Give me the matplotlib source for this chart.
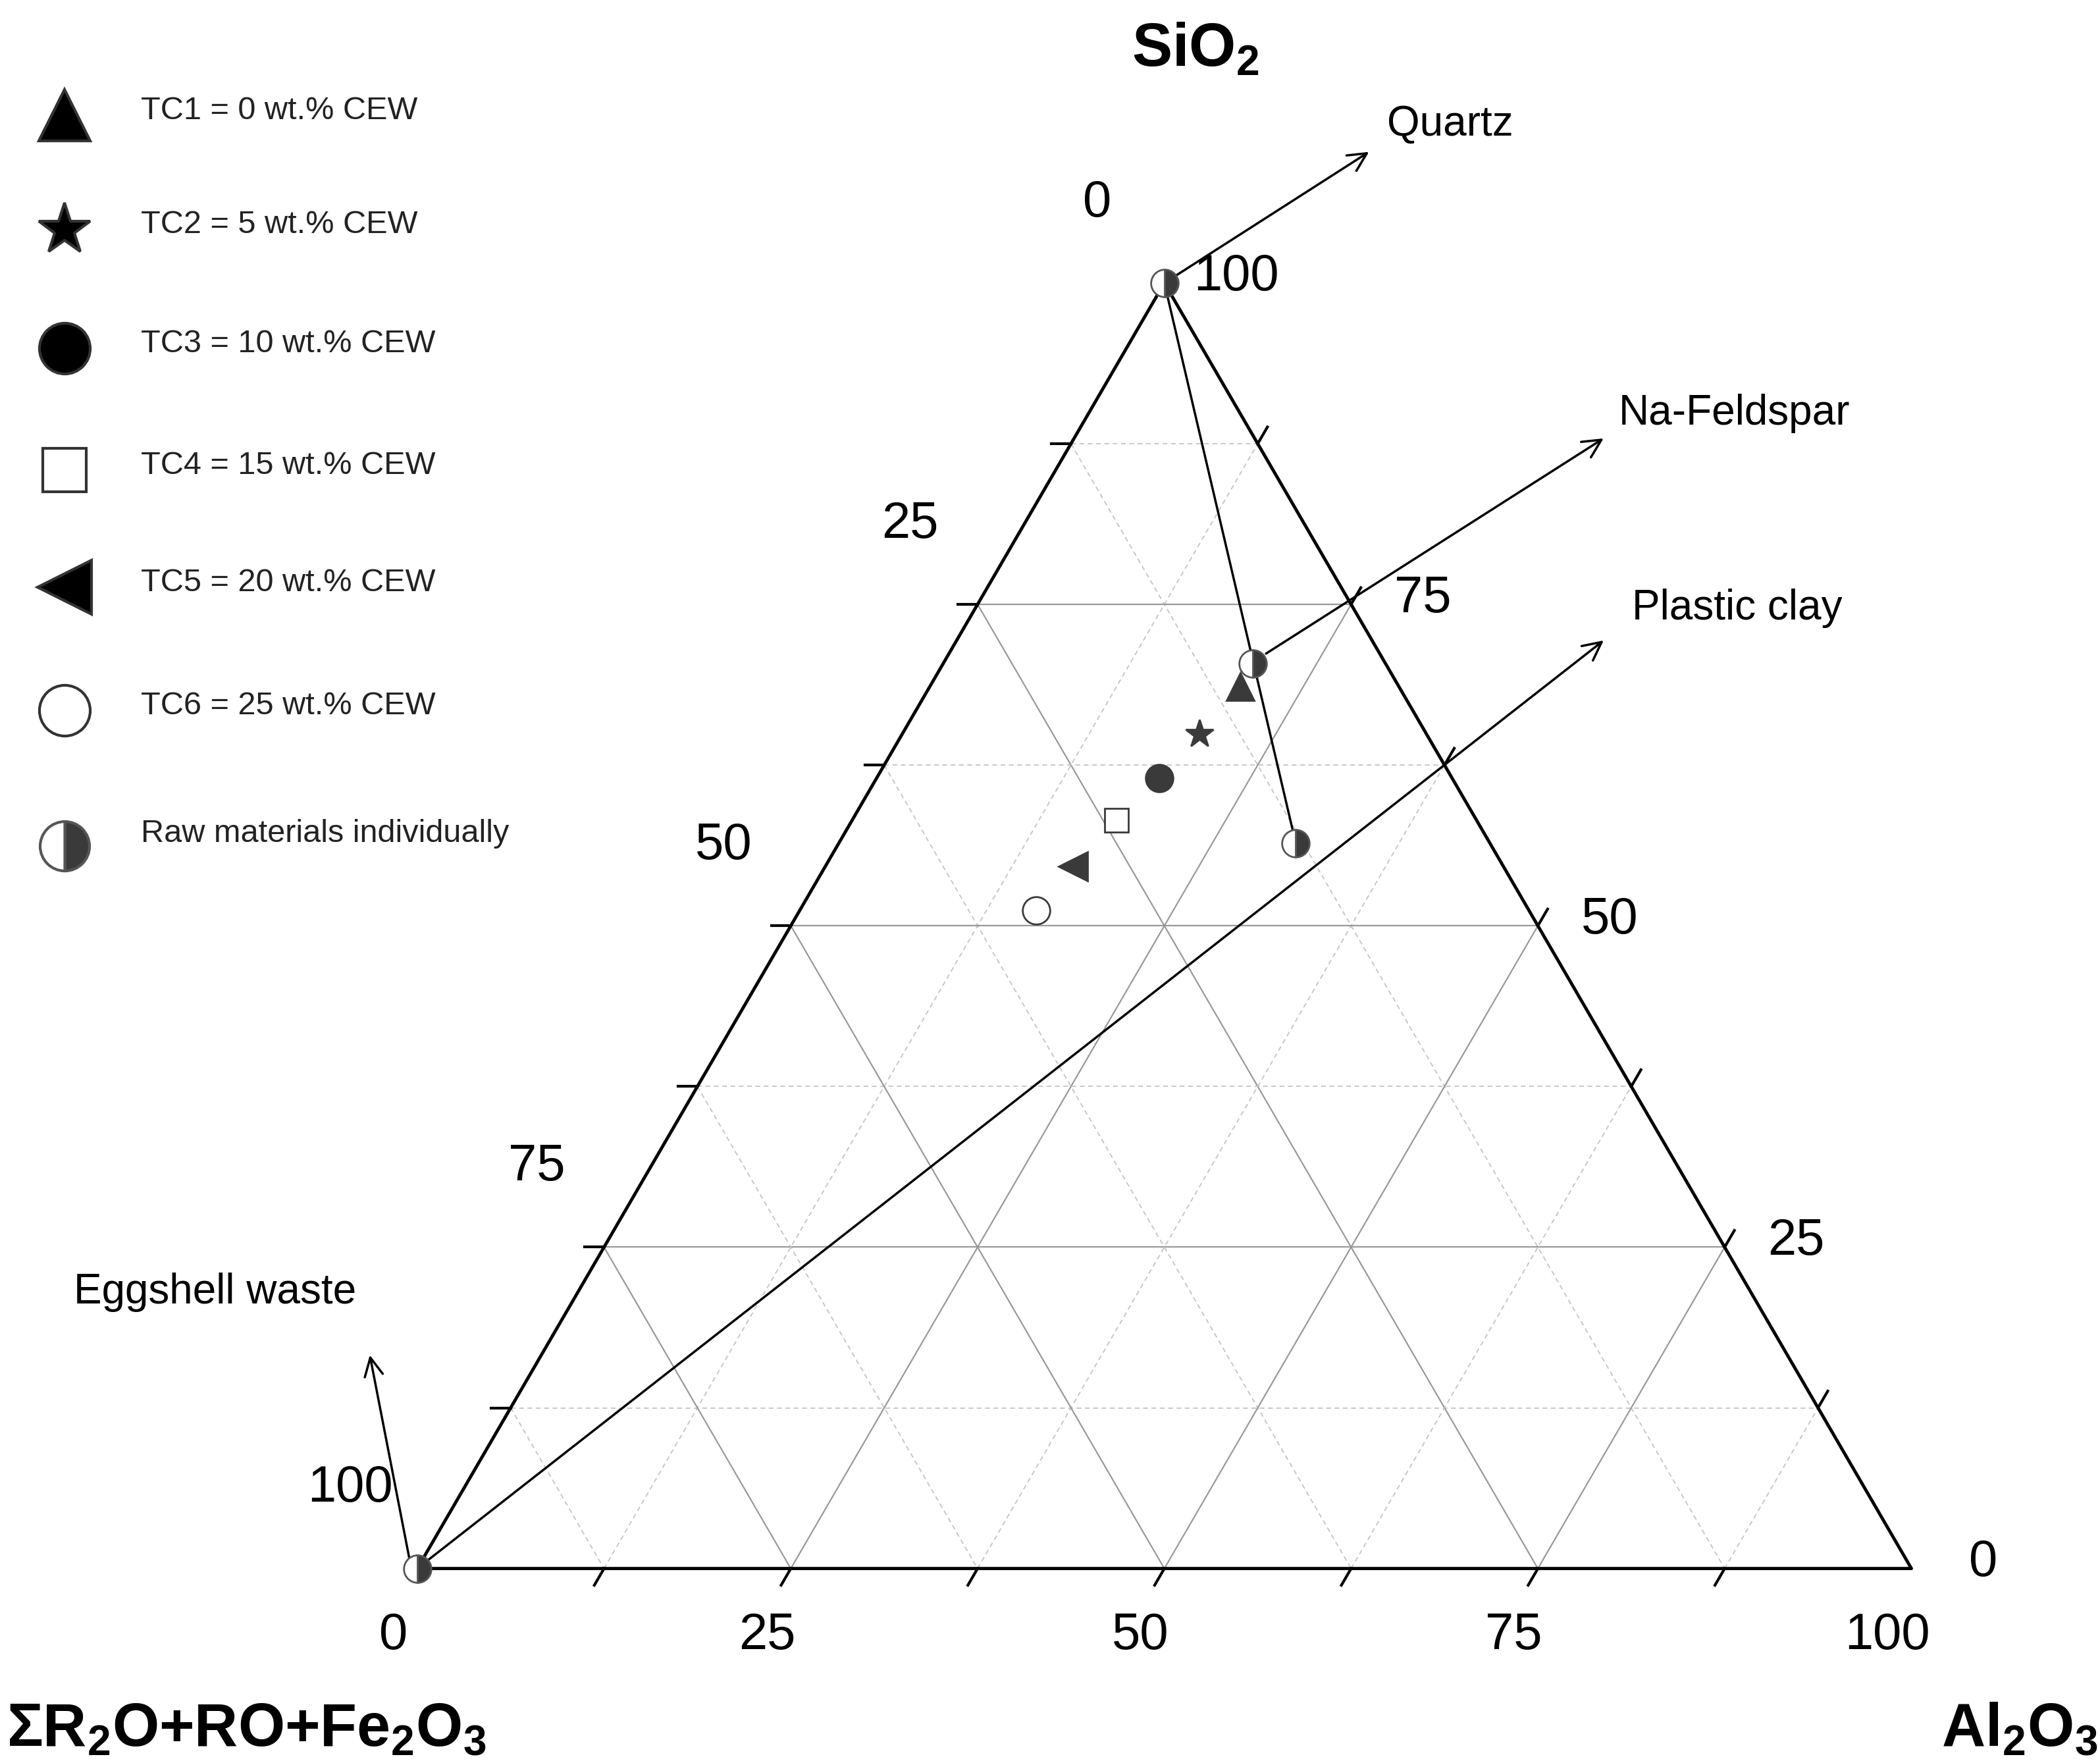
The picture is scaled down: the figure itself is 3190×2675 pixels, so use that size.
import numpy as np
import matplotlib.pyplot as plt

plt.rcParams['font.family'] = ['Liberation Sans', 'DejaVu Sans']
plt.rcParams['mathtext.fontset'] = 'custom'
plt.rcParams['mathtext.bf'] = 'Liberation Sans:bold'
plt.rcParams['mathtext.rm'] = 'Liberation Sans'

H = np.sqrt(3) / 2 * 100

# ternary data (SiO2, Al2O3), remainder = R2O+RO+Fe2O3
raw_names = ["Quartz", "Na-Feldspar", "Plastic clay", "Eggshell waste"]
raw_si = [100, 70.4, 56.4, 0]
raw_al = [0, 20.7, 30.6, 0]

tc_labels = ["TC1 = 0 wt.% CEW", "TC2 = 5 wt.% CEW", "TC3 = 10 wt.% CEW",
             "TC4 = 15 wt.% CEW", "TC5 = 20 wt.% CEW", "TC6 = 25 wt.% CEW"]
tc_si = [68.6, 64.9, 61.5, 58.2, 54.6, 51.2]
tc_al = [20.8, 19.9, 18.9, 17.7, 16.6, 15.8]
tc_markers = ["^", "*", "o", "s", "<", "o"]
tc_fill = ["#3a3a3a", "#3a3a3a", "#3a3a3a", "white", "#3a3a3a", "white"]
tc_size = [30, 32, 30, 26, 32, 30]

ticks = [0, 25, 50, 75, 100]


def xy(si, al):
    si = np.asarray(si, float)
    al = np.asarray(al, float)
    return al + si / 2, si * H / 100


fig = plt.figure(figsize=(31.9, 26.75), dpi=100)
ax = fig.add_axes([0.1987, 0.1093, 0.7115, 0.730])
ax.set_xlim(0, 100)
ax.set_ylim(0, H)
ax.axis("off")

# grid
for v in np.arange(12.5, 100, 12.5):
    style = dict(color="#999999", lw=1.6, ls="-") if v % 25 == 0 else dict(color="#c4c4c4", lw=1.3, ls=(0, (4, 3)))
    x, y = xy([v, v], [0, 100 - v]); ax.plot(x, y, **style, zorder=1)
    x, y = xy([0, 100 - v], [v, v]); ax.plot(x, y, **style, zorder=1)
    x, y = xy([100 - v, 0], [0, 100 - v]); ax.plot(x, y, **style, zorder=1)

# triangle frame
x, y = xy([0, 0, 100, 0], [0, 100, 0, 0])
ax.plot(x, y, color="black", lw=3.5, zorder=2, clip_on=False)

# edge ticks (short, outward)
L = 1.3
for v in np.arange(12.5, 100, 12.5):
    x, y = xy([0, 0], [v, v]); ax.plot([x[0], x[0] - L * 0.5], [0, -L * 0.866], color="black", lw=3, clip_on=False)
    x, y = xy([100 - v, 100 - v], [0, 0]); ax.plot([x[0], x[0] - L], [y[0], y[0]], color="black", lw=3, clip_on=False)
    x, y = xy([v, v], [100 - v, 100 - v]); ax.plot([x[0], x[0] + L * 0.5], [y[0], y[0] + L * 0.866], color="black", lw=3, clip_on=False)

fs = 56
for v in ticks:
    x, y = xy(0, v)
    ax.text(x - 1.6, -4.5, str(v), fontsize=fs, ha="center", va="center")
    x, y = xy(100 - v, 0)
    ax.text(x - 4.5, y + 5.4, str(v), fontsize=fs, ha="center", va="center")
    x, y = xy(v, 100 - v)
    ax.text(x + 4.8, y + 0.4, str(v), fontsize=fs, ha="center", va="center")

# tie line
px, py = xy(raw_si, raw_al)
ax.plot([px[0], px[2]], [py[0], py[2]], color="black", lw=2.5, zorder=3)

# arrows to labels
arrow_end = [(63.8, 95.5), (79.5, 76.2), (79.5, 62.6), (-3.2, 14.5)]
arrow_start = [(px[0], py[0]), (px[1] + 0.8, py[1] + 0.6), (px[3], py[3]), (px[3] - 0.4, py[3])]
label_pos = [(64.9, 97.3), (80.4, 77.8), (81.3, 64.7), (-23, 18.6)]
for name, s, e, lp in zip(raw_names, arrow_start, arrow_end, label_pos):
    ax.annotate("", xy=e, xytext=s, arrowprops=dict(arrowstyle="->", lw=2.5, color="black",
                mutation_scale=50), annotation_clip=False, zorder=3)
    ax.text(lp[0], lp[1], name, fontsize=46, ha="left", va="center")

ax.plot(px, py, "o", ms=30, fillstyle="right", mfc="#3a3a3a", mfcalt="white",
        mec="#555555", mew=2, ls="none", zorder=5, clip_on=False)

tx, ty = xy(tc_si, tc_al)
for i in range(len(tc_si)):
    ax.plot(tx[i], ty[i], tc_markers[i], ms=tc_size[i], mfc=tc_fill[i], mec="#3a3a3a", mew=2, zorder=5)

# axis titles
tkw = dict(fontsize=66, fontweight="bold", va="center")
ax.text(52.1, 102.3, r"SiO$\mathbf{_2}$", ha="center", **tkw)
ax.text(-27.5, -10.9, r"ΣR$\mathbf{_2}$O+RO+Fe$\mathbf{_2}$O$\mathbf{_3}$", ha="left", **tkw)
ax.text(112.5, -10.9, r"Al$\mathbf{_2}$O$\mathbf{_3}$", ha="right", **tkw)

# legend
leg_y = [97.9, 90.2, 82.2, 74.0, 66.1, 57.8]
for i in range(len(tc_labels)):
    mfc = "black" if tc_fill[i] != "white" else "white"
    ax.plot(-23.6, leg_y[i], tc_markers[i], ms=tc_size[i] * 1.85, mfc=mfc, mec="#333333", mew=3, clip_on=False)
    ax.text(-18.5, leg_y[i] + 0.3, tc_labels[i], fontsize=35, ha="left", va="center", color="#222222")
ax.plot(-23.6, 48.7, "o", ms=54, fillstyle="right", mfc="#3a3a3a", mfcalt="white",
        mec="#555555", mew=3, clip_on=False)
ax.text(-18.5, 49.5, "Raw materials individually", fontsize=35, ha="left", va="center", color="#222222")

fig.savefig("out.png", dpi=100)
